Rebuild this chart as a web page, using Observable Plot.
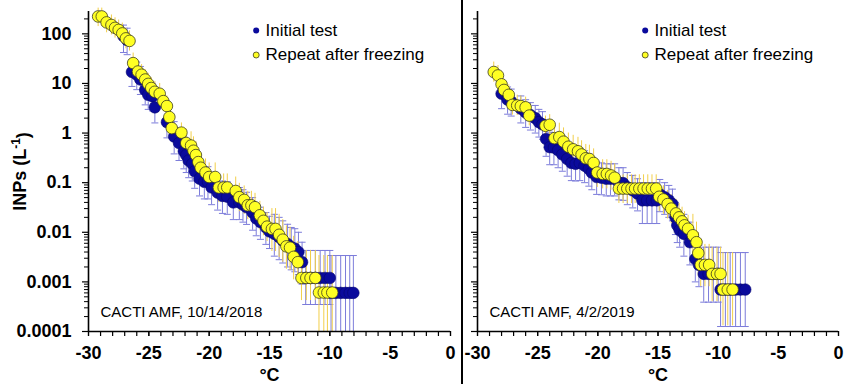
<!DOCTYPE html>
<html><head><meta charset="utf-8">
<script src="https://cdn.jsdelivr.net/npm/d3@7"></script>
<script src="https://cdn.jsdelivr.net/npm/@observablehq/plot@0.6"></script>
<style>
body{margin:0;background:#fff;}
#wrap{position:relative;width:850px;height:384px;overflow:hidden;background:#fff;}
#left{position:absolute;left:0;top:0;width:462px;height:384px;}
#right{position:absolute;left:463px;top:0;width:387px;height:384px;}
#sep{position:absolute;left:461px;top:0;width:2px;height:384px;background:#000;}
</style></head><body>
<div id="wrap"><div id="left"></div><div id="sep"></div><div id="right"></div></div>
<script>
const xTicks = [-30, -25, -20, -15, -10, -5, 0];
const yTicks = [0.0001, 0.001, 0.01, 0.1, 1, 10, 100];
const yTickLabels = ["0.0001", "0.001", "0.01", "0.1", "1", "10", "100"];
const seriesNames = ["Initial test", "Repeat after freezing"];
const panelLabels = ["CACTI AMF, 10/14/2018", "CACTI AMF, 4/2/2019"];
const yTitle = "INPs (L-1)";
const xTitle = "°C";

// rows: [temperature °C, INPs per L, lower error bound, upper error bound]
const leftInitial = [
  [-27.1, 90, 42, 150], [-26.8, 75, 38, 130],
  [-26.4, 17, 8.7, 30], [-26.0, 15, 7.5, 27], [-25.7, 12, 6, 22], [-25.3, 7.4, 3.7, 13],
  [-25.05, 5.9, 3, 11], [-24.7, 5.5, 2.8, 10], [-24.5, 3.3, 1.6, 6], [-23.5, 1.66, 0.8, 3],
  [-22.9, 0.85, 0.38, 1.7], [-22.5, 0.63, 0.28, 1.26], [-22.1, 0.43, 0.19, 0.86],
  [-21.9, 0.36, 0.16, 0.72], [-21.7, 0.28, 0.126, 0.56], [-21.4, 0.24, 0.108, 0.48],
  [-21.2, 0.17, 0.077, 0.34], [-20.8, 0.12, 0.054, 0.24], [-20.4, 0.104, 0.047, 0.21],
  [-20.1, 0.104, 0.047, 0.21], [-19.8, 0.08, 0.036, 0.16], [-19.3, 0.063, 0.028, 0.126],
  [-18.9, 0.054, 0.024, 0.108], [-18.5, 0.052, 0.023, 0.104], [-18.0, 0.04, 0.018, 0.08],
  [-17.5, 0.04, 0.018, 0.08], [-17.2, 0.036, 0.016, 0.072], [-16.9, 0.032, 0.0144, 0.064],
  [-16.4, 0.025, 0.011, 0.05], [-16.1, 0.019, 0.0085, 0.038], [-15.75, 0.016, 0.0072, 0.032],
  [-15.3, 0.0126, 0.0057, 0.025], [-15.0, 0.0104, 0.0047, 0.021], [-14.6, 0.0093, 0.0033, 0.023],
  [-14.2, 0.008, 0.0028, 0.02], [-13.9, 0.0068, 0.0024, 0.017], [-13.5, 0.0058, 0.002, 0.0145],
  [-13.2, 0.005, 0.00175, 0.0125], [-12.9, 0.0047, 0.0016, 0.0118], [-12.6, 0.004, 0.0014, 0.01],
  [-12.3, 0.0025, 0.0009, 0.0063],
  [-12.0, 0.0012, 0.00035, 0.0043], [-11.6, 0.0012, 0.00035, 0.0043], [-11.2, 0.0012, 0.00035, 0.0043],
  [-10.8, 0.0012, 0.00035, 0.0043], [-10.4, 0.0012, 0.00035, 0.0043], [-10.0, 0.0012, 0.00035, 0.0043],
  [-9.9, 0.0006, 0.0001, 0.0034], [-9.5, 0.0006, 0.0001, 0.0034], [-9.1, 0.0006, 0.0001, 0.0034],
  [-8.7, 0.0006, 0.0001, 0.0034], [-8.35, 0.0006, 0.0001, 0.0034], [-8.05, 0.0006, 0.0001, 0.0034]
];
const leftRepeat = [
  [-29.2, 224, 140, 330], [-28.9, 224, 140, 330], [-28.5, 170, 105, 260], [-28.1, 151, 95, 240],
  [-27.8, 132, 82, 210], [-27.5, 120, 75, 190], [-27.2, 102, 64, 165], [-26.9, 81, 50, 130],
  [-26.6, 72, 45, 115], [-26.3, 25.7, 16, 41], [-25.9, 17.4, 11, 28], [-25.6, 15, 9.4, 24],
  [-25.3, 12, 7.5, 19], [-25.05, 9.8, 6, 16], [-24.8, 8.1, 5, 13], [-24.5, 6.8, 4.2, 11],
  [-24.1, 6.2, 3.9, 10], [-23.8, 4.4, 2.7, 7], [-23.5, 3.5, 2.2, 5.6], [-23.3, 2.1, 1.3, 3.4],
  [-23.1, 1.26, 0.79, 2], [-22.3, 1.02, 0.64, 1.6], [-21.9, 0.63, 0.32, 1.2], [-21.5, 0.56, 0.28, 1.06],
  [-21.3, 0.44, 0.22, 0.84], [-21.1, 0.36, 0.18, 0.68], [-20.9, 0.26, 0.13, 0.5], [-20.7, 0.2, 0.1, 0.38],
  [-20.3, 0.16, 0.08, 0.3], [-20.0, 0.13, 0.065, 0.25], [-19.5, 0.13, 0.065, 0.25], [-19.2, 0.08, 0.04, 0.15],
  [-18.8, 0.08, 0.04, 0.15], [-18.5, 0.08, 0.04, 0.15], [-17.8, 0.068, 0.034, 0.13], [-17.5, 0.051, 0.026, 0.097],
  [-17.1, 0.045, 0.023, 0.086], [-16.8, 0.035, 0.018, 0.067], [-16.5, 0.035, 0.018, 0.067],
  [-16.2, 0.032, 0.016, 0.061], [-15.8, 0.022, 0.011, 0.042], [-15.5, 0.017, 0.0085, 0.032],
  [-15.2, 0.013, 0.0065, 0.025], [-14.8, 0.0117, 0.0041, 0.03], [-14.5, 0.0117, 0.0041, 0.03],
  [-14.2, 0.0089, 0.0031, 0.023], [-13.9, 0.0071, 0.0025, 0.018], [-13.6, 0.0052, 0.0018, 0.0135],
  [-13.3, 0.0049, 0.0017, 0.0127], [-13.0, 0.0032, 0.0011, 0.0083], [-12.65, 0.0025, 0.0009, 0.0065],
  [-12.35, 0.0012, 0.00042, 0.0043], [-11.95, 0.0012, 0.00042, 0.0043], [-11.6, 0.0012, 0.00042, 0.0043],
  [-11.2, 0.0012, 0.00042, 0.0043],
  [-10.9, 0.00061, 0.0001, 0.0034], [-10.5, 0.00061, 0.0001, 0.0034], [-10.2, 0.00061, 0.0001, 0.0034],
  [-9.8, 0.00061, 0.0001, 0.0034]
];
const rightInitial = [
  [-28.0, 6.2, 3.1, 11], [-27.5, 4.7, 2.4, 8.5], [-27.2, 4.3, 2.2, 7.7], [-26.4, 3.1, 1.6, 5.6],
  [-26.0, 2.6, 1.3, 4.7], [-25.6, 2.3, 1.15, 4.1], [-25.2, 2.0, 1.0, 3.6], [-24.9, 1.66, 0.83, 3],
  [-24.6, 1.5, 0.75, 2.7], [-24.3, 0.76, 0.34, 1.5], [-24.0, 0.52, 0.23, 1.04], [-23.65, 0.51, 0.23, 1.02],
  [-23.3, 0.45, 0.2, 0.9], [-22.95, 0.37, 0.17, 0.74], [-22.55, 0.3, 0.135, 0.6], [-22.2, 0.25, 0.11, 0.5],
  [-21.85, 0.24, 0.108, 0.48], [-21.5, 0.25, 0.11, 0.5], [-21.1, 0.22, 0.1, 0.44], [-20.75, 0.19, 0.085, 0.38],
  [-20.5, 0.16, 0.072, 0.32], [-20.1, 0.13, 0.058, 0.26], [-19.7, 0.126, 0.057, 0.25], [-19.3, 0.12, 0.054, 0.24],
  [-18.95, 0.12, 0.054, 0.24], [-18.6, 0.12, 0.054, 0.24], [-18.25, 0.1, 0.045, 0.2], [-17.9, 0.098, 0.044, 0.2],
  [-17.55, 0.081, 0.036, 0.16], [-17.1, 0.07, 0.031, 0.14], [-16.7, 0.06, 0.027, 0.12],
  [-16.3, 0.044, 0.015, 0.1], [-15.9, 0.044, 0.015, 0.1], [-15.5, 0.044, 0.015, 0.1], [-15.1, 0.044, 0.015, 0.1],
  [-14.85, 0.058, 0.026, 0.116], [-14.45, 0.051, 0.023, 0.1], [-14.1, 0.044, 0.02, 0.088],
  [-13.8, 0.037, 0.017, 0.074], [-13.55, 0.02, 0.009, 0.04], [-13.4, 0.0138, 0.0062, 0.028],
  [-13.2, 0.011, 0.005, 0.022], [-12.85, 0.0093, 0.0033, 0.023], [-12.35, 0.0063, 0.0022, 0.016],
  [-11.9, 0.0029, 0.001, 0.0073], [-11.6, 0.0022, 0.0008, 0.0055],
  [-11.2, 0.00145, 0.00039, 0.005], [-10.8, 0.00145, 0.00039, 0.005], [-10.4, 0.00145, 0.00039, 0.005],
  [-10.0, 0.00145, 0.00039, 0.005],
  [-9.8, 0.0007, 0.000126, 0.0039], [-9.4, 0.0007, 0.000126, 0.0039], [-9.0, 0.0007, 0.000126, 0.0039],
  [-8.55, 0.0007, 0.000126, 0.0039], [-8.15, 0.0007, 0.000126, 0.0039], [-7.75, 0.0007, 0.000126, 0.0039]
];
const rightRepeat = [
  [-28.65, 17, 10.6, 27], [-28.3, 14.5, 9, 23], [-28.0, 9.6, 6, 15], [-27.8, 7.4, 4.6, 12],
  [-27.4, 5.9, 3.7, 9.4], [-27.1, 3.7, 2.3, 5.9], [-26.7, 3.6, 2.25, 5.8], [-26.4, 3.5, 2.2, 5.6],
  [-26.0, 3.3, 2.1, 5.3], [-25.7, 2.25, 1.4, 3.6], [-24.35, 1.4, 0.88, 2.2], [-24.0, 1.47, 0.92, 2.35],
  [-23.6, 0.79, 0.4, 1.5], [-23.2, 0.83, 0.42, 1.58], [-22.85, 0.67, 0.34, 1.27], [-22.45, 0.53, 0.27, 1.0],
  [-22.05, 0.47, 0.24, 0.9], [-21.65, 0.43, 0.22, 0.82], [-21.35, 0.37, 0.19, 0.7], [-21.0, 0.31, 0.16, 0.59],
  [-20.7, 0.30, 0.15, 0.57], [-20.35, 0.25, 0.125, 0.48], [-20.05, 0.16, 0.08, 0.3], [-19.6, 0.15, 0.075, 0.29],
  [-19.25, 0.15, 0.075, 0.29], [-18.9, 0.14, 0.07, 0.27], [-18.6, 0.126, 0.063, 0.24],
  [-18.25, 0.076, 0.038, 0.144], [-17.9, 0.076, 0.038, 0.144], [-17.55, 0.076, 0.038, 0.144],
  [-17.2, 0.076, 0.038, 0.144], [-16.9, 0.076, 0.038, 0.144], [-16.55, 0.076, 0.038, 0.144],
  [-16.2, 0.076, 0.038, 0.144], [-15.85, 0.076, 0.038, 0.144], [-15.5, 0.076, 0.038, 0.144],
  [-15.15, 0.076, 0.038, 0.144],
  [-14.9, 0.052, 0.026, 0.1], [-14.55, 0.046, 0.023, 0.087], [-14.2, 0.037, 0.0185, 0.07],
  [-13.9, 0.03, 0.015, 0.057], [-13.5, 0.024, 0.012, 0.046], [-13.25, 0.02, 0.01, 0.038],
  [-13.0, 0.0166, 0.0083, 0.032], [-12.8, 0.0138, 0.0069, 0.026], [-12.5, 0.0118, 0.0059, 0.022],
  [-12.1, 0.0087, 0.003, 0.023], [-11.8, 0.0063, 0.0022, 0.016], [-11.65, 0.0038, 0.0013, 0.0099],
  [-11.45, 0.0022, 0.0008, 0.0057], [-11.1, 0.0022, 0.0008, 0.0057], [-10.75, 0.0022, 0.0008, 0.0057],
  [-10.5, 0.00145, 0.0004, 0.005], [-10.1, 0.00145, 0.0004, 0.005], [-9.8, 0.00145, 0.0004, 0.005],
  [-9.6, 0.0007, 0.00013, 0.0039], [-9.2, 0.0007, 0.00013, 0.0039], [-8.8, 0.0007, 0.00013, 0.0039]
];

const BLUE = "#0a0a9c", BLUE_ERR = "#7c7cda", YELLOW = "#ffff24", YELLOW_ERR = "#f2cf4a";
const FONT = "'Liberation Sans', Arial, Helvetica, sans-serif";
const yDomain = [0.0001, 282];
const xMinor = d3.range(-30, 1, 1);
const yMinor = [];
for (const dec of yTicks) for (let k = 2; k <= 9; k++) if (dec * k <= yDomain[1]) yMinor.push(dec * k);
const capSymbol = {draw(ctx) { ctx.moveTo(-3.5, 0); ctx.lineTo(3.5, 0); }};
const toRow = d => ({T: d[0], v: d[1], lo: d[2], hi: d[3]});

function panel({initial, repeat, label, width, marginLeft, showY}) {
  const A = initial.map(toRow), B = repeat.map(toRow);
  const marks = [
    Plot.ruleX(A, {x: "T", y1: "lo", y2: "hi", stroke: BLUE_ERR, strokeWidth: 1}),
    Plot.dot(A, {x: "T", y: "lo", symbol: capSymbol, fill: "none", stroke: BLUE_ERR, strokeWidth: 1}),
    Plot.dot(A, {x: "T", y: "hi", symbol: capSymbol, fill: "none", stroke: BLUE_ERR, strokeWidth: 1}),
    Plot.ruleX(B, {x: "T", y1: "lo", y2: "hi", stroke: YELLOW_ERR, strokeWidth: 1}),
    Plot.dot(A, {x: "T", y: "v", r: 5.8, fill: BLUE, stroke: "#06066e", strokeWidth: 0.6}),
    Plot.dot(B, {x: "T", y: "v", r: 5.8, fill: YELLOW, stroke: "#3c3c20", strokeWidth: 0.8}),
    Plot.ruleX([-30], {stroke: "#000", strokeWidth: 1.6}),
    Plot.ruleY([yDomain[0]], {stroke: "#000", strokeWidth: 1.6}),
    Plot.axisX({ticks: xMinor, tickSize: 5, tickFormat: () => "", label: null, strokeWidth: 1.2}),
    Plot.axisX({ticks: xTicks, tickSize: 5, tickPadding: 10, tickFormat: d => String(d), label: null,
      fontSize: 18, fontWeight: "bold", strokeWidth: 1.2}),
    Plot.axisY({ticks: yMinor, tickSize: 4, tickFormat: () => "", label: null, strokeWidth: 1}),
    Plot.axisY({ticks: yTicks, tickSize: 6, tickPadding: 11, label: null, strokeWidth: 1.2,
      tickFormat: showY ? (d => yTickLabels[yTicks.indexOf(d)]) : () => "", fontSize: 18, fontWeight: "bold"}),
    Plot.dot([seriesNames[0]], {frameAnchor: "top-left", dx: 167.7, dy: 19, r: 3, fill: BLUE}),
    Plot.dot([seriesNames[1]], {frameAnchor: "top-left", dx: 167.7, dy: 43.5, r: 3, fill: YELLOW, stroke: "#3c3c20", strokeWidth: 0.8}),
    Plot.text([seriesNames[0]], {frameAnchor: "top-left", dx: 177, dy: 19, text: d => d, textAnchor: "start", lineAnchor: "middle", fontSize: 17}),
    Plot.text([seriesNames[1]], {frameAnchor: "top-left", dx: 177, dy: 43, text: d => d, textAnchor: "start", lineAnchor: "middle", fontSize: 17}),
    Plot.text([label], {frameAnchor: "bottom-left", dx: 12, dy: -19.5, text: d => d, textAnchor: "start", lineAnchor: "middle", fontSize: 15}),
    Plot.text([xTitle], {frameAnchor: "bottom", dy: 44, text: d => d, lineAnchor: "middle", fontSize: 18, fontWeight: "bold"})
  ];
  if (showY) marks.push(Plot.text([yTitle], {frameAnchor: "left", dx: -68.5, rotate: -90, text: d => d,
    textAnchor: "middle", lineAnchor: "middle", fontSize: 18, fontWeight: "bold"}));
  const svg = Plot.plot({
    width, height: 384, marginLeft, marginRight: 12, marginTop: 11, marginBottom: 53,
    style: {fontFamily: FONT, color: "#000", background: "transparent", overflow: "visible"},
    x: {type: "linear", domain: [-30, 0]},
    y: {type: "log", domain: yDomain},
    marks
  });
  d3.select(svg).selectAll("text").filter(function() { return this.textContent === yTitle; }).each(function() {
    const t = d3.select(this);
    t.text("INPs (L");
    t.append("tspan").attr("dy", "-0.5em").attr("font-size", "12px").text("-1");
    t.append("tspan").attr("dy", "0.5em").text(")");
  });
  return svg;
}

document.getElementById("left").appendChild(panel({initial: leftInitial, repeat: leftRepeat, label: panelLabels[0], width: 462, marginLeft: 88, showY: true}));
document.getElementById("right").appendChild(panel({initial: rightInitial, repeat: rightRepeat, label: panelLabels[1], width: 387, marginLeft: 14, showY: false}));
</script>
</body></html>
